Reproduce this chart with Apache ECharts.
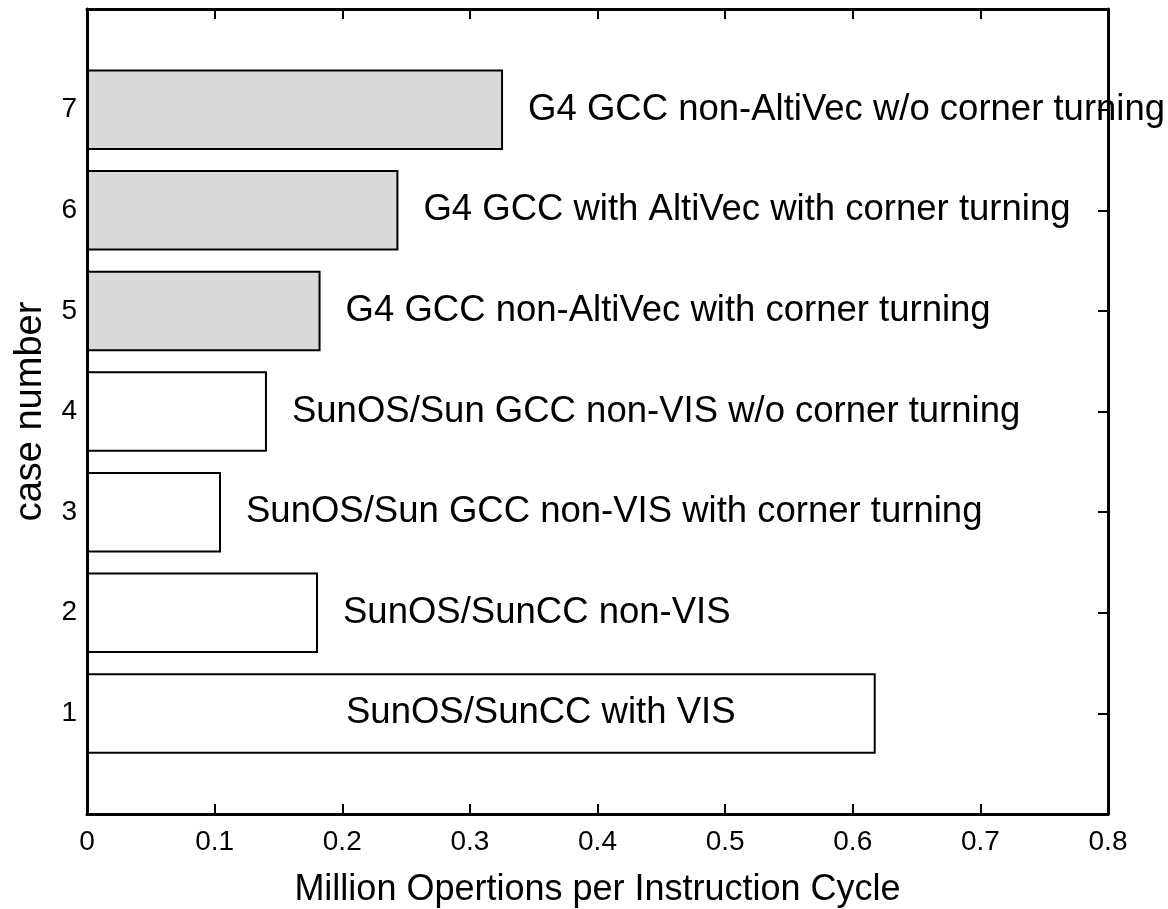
<!DOCTYPE html>
<html>
<head>
<meta charset="utf-8">
<script src="https://cdn.jsdelivr.net/npm/echarts@6/dist/echarts.min.js"></script>
<style>
html, body { margin: 0; background: #fff; }
#chart { width: 1168px; height: 909px; }
</style>
</head>
<body>
<div id="chart"></div>
<script>
// data
var caseNumbers = ['1', '2', '3', '4', '5', '6', '7'];
var caseLabels = [
    'SunOS/SunCC with VIS',
    'SunOS/SunCC non-VIS',
    'SunOS/Sun GCC non-VIS with corner turning',
    'SunOS/Sun GCC non-VIS w/o corner turning',
    'G4 GCC non-AltiVec with corner turning',
    'G4 GCC with AltiVec with corner turning',
    'G4 GCC non-AltiVec w/o corner turning'
];
var mops = [0.618, 0.181, 0.105, 0.141, 0.183, 0.244, 0.326];
var platforms = ['SunOS', 'SunOS', 'SunOS', 'SunOS', 'G4', 'G4', 'G4'];
var yCategories = ['0'].concat(caseNumbers, ['8']);

var FONT = 'Liberation Sans, Arial, sans-serif';
var fillOf = { SunOS: '#ffffff', G4: '#d9d9d9' };

var myChart = echarts.init(document.getElementById('chart'));

//每个柱子的数据
var barData = caseNumbers.map(function (c, i) {
    var item = {
        value: [mops[i], c],
        itemStyle: { color: fillOf[platforms[i]] },
        label: { formatter: caseLabels[i] }
    };
    // 最长的柱子标签放在柱子里面
    if (i === 0) {
        item.label.position = [259, '50%'];
        item.label.verticalAlign = 'middle';
        item.label.align = 'left';
    }
    return item;
});

var axisLine = { show: true, onZero: false, lineStyle: { color: '#000', width: 3 } };
// 刻度朝里
var tick = { show: true, inside: true, length: 10, lineStyle: { color: '#000', width: 2 } };

option = {
    animation: false,
    backgroundColor: '#fff',
    textStyle: { fontFamily: FONT, color: '#000' },
    grid: { left: 87, right: 60, top: 9, bottom: 95, containLabel: false, outerBoundsMode: 'none' },
    xAxis: [
        {
            type: 'value',
            position: 'bottom',
            min: 0,
            max: 0.8,
            interval: 0.1,
            axisLine: axisLine,
            axisTick: tick,
            splitLine: { show: false },
            axisLabel: { fontSize: 28, color: '#000', fontFamily: FONT, margin: 14 },
            name: 'Million Opertions per Instruction Cycle',
            nameLocation: 'middle',
            nameGap: 58,
            nameTextStyle: { fontSize: 36, color: '#000', fontFamily: FONT }
        },
        {
            type: 'value',
            position: 'top',
            min: 0,
            max: 0.8,
            interval: 0.1,
            axisLine: axisLine,
            axisTick: tick,
            splitLine: { show: false },
            axisLabel: { show: false }
        }
    ],
    yAxis: [
        {
            type: 'category',
            position: 'left',
            data: yCategories,
            boundaryGap: false,
            axisLine: axisLine,
            axisTick: tick,
            axisLabel: {
                fontSize: 28, color: '#000', fontFamily: FONT, margin: 10,
                formatter: function (v) { return caseNumbers.indexOf(v) >= 0 ? v : ''; }
            },
            name: 'case number',
            nameLocation: 'middle',
            nameGap: 37,
            nameTextStyle: { fontSize: 38, color: '#000', fontFamily: FONT }
        },
        {
            type: 'category',
            position: 'right',
            data: yCategories,
            boundaryGap: false,
            axisLine: axisLine,
            axisTick: tick,
            axisLabel: { show: false }
        }
    ],
    series: [
        {
            type: 'bar',
            xAxisIndex: 0,
            yAxisIndex: 0,
            barWidth: '80%',
            data: barData,
            itemStyle: { borderColor: '#000', borderWidth: 2 },
            label: {
                show: true,
                position: 'right',
                distance: 25,
                fontSize: 36.5,
                color: '#000',
                fontFamily: FONT
            }
        }
    ]
};

myChart.setOption(option);
</script>
</body>
</html>
